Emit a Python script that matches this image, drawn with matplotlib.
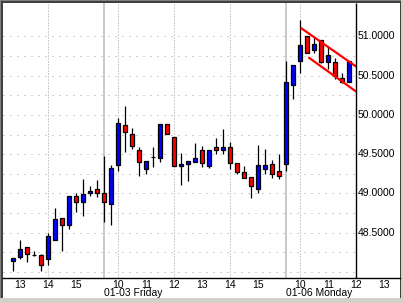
import matplotlib
matplotlib.use("Agg")
import matplotlib.pyplot as plt
import matplotlib.transforms as mtransforms
from matplotlib.patches import Rectangle

plt.rcParams['font.family'] = ['Liberation Sans', 'DejaVu Sans']

# 15-minute bars, three sessions (index 0 = 12:45 on the first day)
opens = [48.14, 48.19, 48.31, 48.21, 48.21, 48.16, 48.41, 48.68, 48.59, 48.96,
         48.89, 49.00, 49.06, 49.01, 48.87, 49.36, 49.87, 49.76, 49.55, 49.31,
         49.46, 49.45, 49.88, 49.72, 49.35, 49.38, 49.40, 49.55, 49.35, 49.59,
         49.55, 49.59, 49.39, 49.27, 49.21, 49.05, 49.31, 49.37, 49.29, 49.38,
         50.38, 50.69, 51.01, 50.83, 50.95, 50.68, 50.67, 50.47, 50.42]
highs = [48.18, 48.40, 48.31, 48.26, 48.23, 48.49, 48.81, 48.69, 48.96, 49.00,
         49.18, 49.09, 49.17, 49.48, 49.36, 49.96, 50.11, 49.83, 49.59, 49.41,
         49.59, 49.88, 49.88, 49.72, 49.51, 49.41, 49.64, 49.60, 49.55, 49.71,
         49.82, 49.65, 49.39, 49.35, 49.21, 49.62, 49.56, 49.43, 49.50, 50.69,
         50.64, 51.21, 51.01, 51.00, 50.96, 50.87, 50.72, 50.54, 50.69]
lows = [48.01, 48.16, 48.12, 48.20, 48.01, 48.09, 48.41, 48.26, 48.54, 48.76,
        48.71, 48.96, 48.95, 48.64, 48.60, 49.28, 49.53, 49.56, 49.22, 49.25,
        49.33, 49.40, 49.76, 49.35, 49.10, 49.16, 49.40, 49.34, 49.32, 49.50,
        49.50, 49.31, 49.25, 49.20, 48.94, 49.01, 49.25, 49.19, 49.18, 49.28,
        50.20, 50.54, 50.79, 50.79, 50.66, 50.59, 50.46, 50.41, 50.42]
closes = [48.18, 48.29, 48.22, 48.21, 48.08, 48.46, 48.67, 48.60, 48.96, 48.89,
          48.99, 49.03, 49.00, 48.89, 49.32, 49.90, 49.78, 49.60, 49.40, 49.41,
          49.46, 49.88, 49.76, 49.35, 49.38, 49.41, 49.45, 49.39, 49.55, 49.55,
          49.59, 49.39, 49.27, 49.20, 49.09, 49.36, 49.36, 49.25, 49.22, 50.42,
          50.64, 50.89, 50.79, 50.91, 50.67, 50.77, 50.49, 50.42, 50.69]

# channel drawn on the last session
upper_x = [41.06, 49.0]
upper_y = [51.11, 50.615]
lower_x = [42.14, 49.0]
lower_y = [50.735, 50.296]

hour_pos = [1, 5, 9, 15, 19, 23, 27, 31, 35, 41, 45, 49, 53]
hour_labels = ['13', '14', '15', '10', '11', '12', '13', '14', '15', '10', '11', '12', '13']
day_pos = [13, 39]
day_labels = ['01-03 Friday', '01-06 Monday']
grid_x = [5, 15, 23, 31, 41]
price_ticks = [48.5, 49.0, 49.5, 50.0, 50.5, 51.0]
grid_y = [48.0, 48.25, 48.5, 48.75, 49.0, 49.25, 49.5, 49.75, 50.0, 50.25, 50.5, 50.75, 51.0]

W, H = 403, 303
fig = plt.figure(figsize=(W / 100, H / 100), dpi=100, facecolor='#D4D0C8')

def px_rect(x0, y0, w, h, color):
    fig.add_artist(Rectangle((x0 / W, 1 - (y0 + h) / H), w / W, h / H,
                             transform=fig.transFigure, color=color, lw=0, zorder=-5))

# window frame
px_rect(0, 0, 401, 298, '#808080')
px_rect(1, 1, 400, 297, '#404040')
px_rect(3, 3, 397, 295, 'white')

ax = fig.add_axes([3 / W, 1 - 278 / H, 397 / W, 275 / H], facecolor='white')
ax.set_xlim(-1.471, 55.24)
ax.set_ylim(47.92, 51.427)

last = 49.0
gray = '#A0A0A0'
ax.hlines(grid_y, -1.471, last, colors=gray, lw=0.72, linestyles=(0, (1, 6)), zorder=1)
ax.vlines(grid_x, 47.92, 51.427, colors=gray, lw=0.72, linestyles=(0, (1, 2)), zorder=1)
ax.vlines(day_pos, 47.92, 51.427, colors='#C0C0C0', lw=1.2, zorder=1)
ax.vlines([last], 47.92, 51.427, colors='black', lw=1.0, zorder=5)

idx = list(range(len(opens)))
ax.vlines(idx, lows, highs, colors='black', lw=0.9, zorder=2)
bottoms = [min(o, c) for o, c in zip(opens, closes)]
heights = [abs(c - o) for o, c in zip(opens, closes)]
colors = ['#0000FF' if c > o else '#FF0000' for o, c in zip(opens, closes)]
ax.bar(idx, heights, bottom=bottoms, width=0.62, color=colors,
       edgecolor='black', linewidth=0.9, zorder=3)

ax.plot(upper_x, upper_y, color='#FF0000', lw=1.6, zorder=4, solid_capstyle='butt')
ax.plot(lower_x, lower_y, color='#FF0000', lw=1.6, zorder=4, solid_capstyle='butt')

for p in price_ticks:
    ax.text(49.25, p, f'{p:.4f}', ha='left', va='center', fontsize=7.5, color='black')

for s in ['top', 'left', 'right']:
    ax.spines[s].set_visible(False)
ax.spines['bottom'].set_linewidth(1.0)
ax.set_xticks([])
ax.set_yticks([])

tr = mtransforms.blended_transform_factory(ax.transData, fig.transFigure)
for p, lab in zip(hour_pos, hour_labels):
    fig.text(p, 1 - 288.5 / H, lab, transform=tr, ha='center', va='baseline',
             fontsize=7.5, color='black')
for p, lab in zip(day_pos, day_labels):
    fig.text(p - 0.1, 1 - 296.5 / H, lab, transform=tr, ha='left', va='baseline',
             fontsize=7.5, color='black')

fig.savefig('out.png', dpi=100, facecolor=fig.get_facecolor())
